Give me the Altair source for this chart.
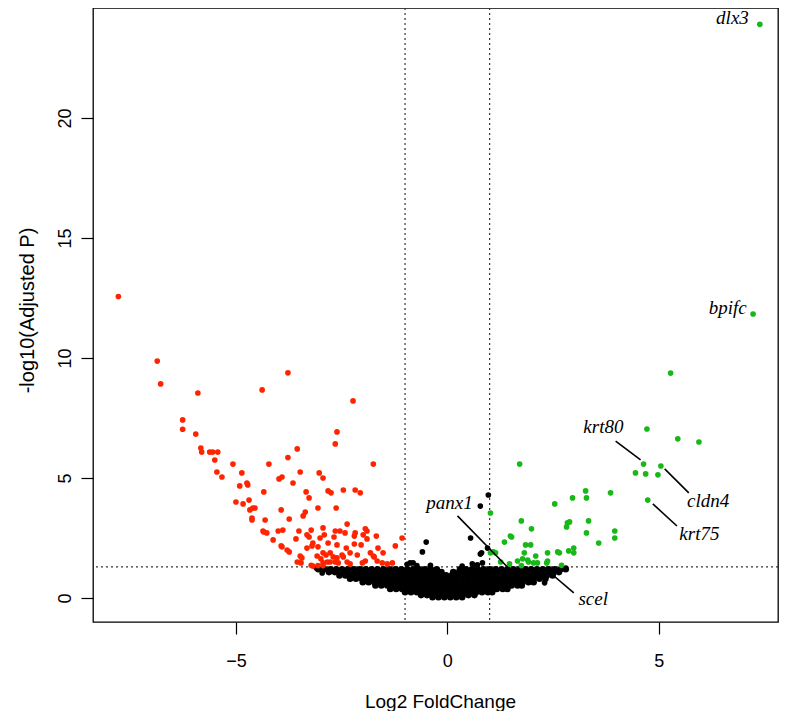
import altair as alt
import pandas as pd

# ---------------- data ----------------
# down-regulated (red): (log2FC, -log10 padj)
red_pts = [(-7.78, 12.56), (-6.86, 9.87), (-6.78, 8.92), (-5.90, 8.54), (-4.38, 8.67), (-3.77, 9.38),
           (-6.26, 7.42), (-6.26, 7.03), (-5.95, 6.83), (-5.83, 6.25), (-5.81, 6.08), (-5.62, 6.08),
           (-5.55, 6.08), (-5.43, 6.08), (-5.50, 5.75), (-3.77, 5.85), (-5.07, 5.58), (-4.22, 5.58),
           (-5.45, 5.25), (-4.86, 5.21), (-5.33, 5.04), (-3.98, 4.96), (-3.91, 5.04), (-4.91, 4.67),
           (-4.74, 4.79), (-4.72, 4.71), (-4.34, 4.42), (-5.00, 4.00), (-4.83, 3.92), (-4.69, 4.08),
           (-4.67, 3.67), (-4.60, 3.75), (-4.55, 3.75), (-3.93, 3.67), (-3.74, 3.29), (-4.62, 3.33),
           (-4.62, 3.25), (-4.31, 3.25), (-4.36, 2.79), (-4.34, 2.75), (-4.27, 2.71), (-4.00, 2.79),
           (-3.89, 2.83), (-4.12, 2.42), (-3.93, 2.17), (-3.91, 2.13), (-3.79, 2.00), (-3.74, 1.92),
           (-2.61, 6.92), (-2.65, 6.42), (-3.55, 6.21), (-3.48, 5.25), (-3.03, 5.21), (-2.94, 5.00),
           (-3.65, 4.79), (-1.75, 5.58), (-3.34, 4.42), (-3.27, 4.17), (-2.82, 4.46), (-2.75, 4.38),
           (-2.46, 4.50), (-2.18, 4.50), (-2.06, 4.38), (-3.06, 3.75), (-2.63, 3.75), (-3.36, 3.58),
           (-3.41, 3.42), (-2.37, 3.08), (-3.51, 2.79), (-3.22, 2.83), (-2.94, 2.92), (-2.65, 2.79),
           (-2.54, 2.79), (-1.94, 2.88), (-1.90, 2.79), (-3.58, 2.46), (-3.32, 2.63), (-3.27, 2.54),
           (-3.01, 2.50), (-2.91, 2.63), (-2.68, 2.54), (-2.42, 2.71), (-2.18, 2.71), (-2.20, 2.58),
           (-1.99, 2.63), (-1.68, 2.58), (-1.07, 2.50), (-3.18, 2.29), (-3.20, 2.17), (-3.32, 2.08),
           (-3.06, 2.13), (-2.82, 2.29), (-2.61, 2.21), (-2.39, 2.08), (-2.20, 2.25), (-2.04, 2.21),
           (-1.90, 2.46), (-1.64, 2.08), (-1.23, 2.17), (-3.48, 1.75), (-3.44, 1.67), (-3.08, 1.75),
           (-2.94, 1.88), (-2.87, 1.79), (-2.77, 1.88), (-2.70, 1.71), (-2.61, 1.67), (-2.49, 1.79),
           (-2.46, 1.71), (-2.30, 1.88), (-2.13, 1.79), (-1.82, 1.88), (-1.75, 1.75), (-1.52, 1.88),
           (-3.55, 1.50), (-3.46, 1.46), (-3.22, 1.36), (-3.18, 1.33), (-2.99, 1.63), (-2.94, 1.46),
           (-2.84, 1.50), (-2.77, 1.50), (-2.65, 1.50), (-2.58, 1.46), (-2.37, 1.50), (-2.30, 1.42),
           (-2.01, 1.46), (-1.94, 1.54), (-1.73, 1.71), (-1.66, 1.54), (-1.54, 1.46), (-1.42, 1.42),
           (-1.30, 1.46), (-3.06, 1.35), (-2.94, 1.35), (-2.23, 8.21)]

# up-regulated (green)
green_pts = [(7.39, 23.90), (7.23, 11.83), (5.28, 9.37), (4.72, 7.04), (5.45, 6.63), (5.95, 6.50),
             (4.64, 5.58), (5.05, 5.50), (4.45, 5.21), (4.69, 5.17), (4.98, 5.13), (4.74, 4.08),
             (1.71, 5.58), (1.02, 3.54), (2.54, 3.92), (2.96, 4.17), (3.27, 4.46), (3.29, 4.17),
             (3.86, 4.38), (1.75, 3.21), (1.99, 2.88), (2.84, 3.13), (2.89, 3.17), (2.82, 2.96),
             (3.34, 3.21), (3.29, 2.71), (3.96, 2.79), (3.96, 2.50), (3.58, 2.29), (1.49, 2.58),
             (1.52, 2.54), (1.35, 2.33), (1.85, 2.21), (1.97, 2.21), (1.14, 1.88), (1.09, 1.92),
             (1.82, 1.88), (2.09, 1.75), (2.37, 1.88), (2.61, 1.92), (2.65, 1.88), (2.87, 1.96),
             (2.99, 2.08), (2.99, 1.88), (1.26, 1.50), (1.47, 1.42), (1.66, 1.54), (1.78, 1.63),
             (1.90, 1.58), (1.92, 1.50), (2.04, 1.46), (2.13, 1.46), (2.35, 1.46), (2.37, 1.54),
             (2.70, 1.36), (1.75, 1.35), (1.02, 1.88)]

# not significant (black), scattered ones
black_pts = [(0.97, 4.29), (0.78, 3.83), (0.55, 2.50), (0.81, 1.88), (0.95, 2.08), (-0.50, 2.33),
             (-0.59, 1.92), (0.69, 1.33), (0.59, 1.42), (-0.88, 1.46), (-0.81, 1.46), (0.78, 1.83),
             (0.71, 1.38), (0.83, 1.46), (-0.95, 1.40), (-0.72, 1.35), (-2.96, 1.04), (2.30, 0.63),
             (2.80, 1.25), (-0.40, 1.36), (0.35, 1.33), (-3.10, 1.25)]

# dense black mass, read row by row (x positions at each -log10 padj level)
mass_003 = [-0.35, -0.21, -0.07, 0.07, 0.21, 0.35]
mass_012 = [-0.62, -0.48, -0.34, -0.2, -0.06, 0.08, 0.22, 0.36, 0.5, 0.64]
mass_024 = [-1.0, -0.86, -0.72, -0.58, -0.44, -0.3, -0.16, -0.02, 0.12, 0.26, 0.4, 0.54, 0.68, 0.82,
            0.96, 1.06]
mass_038 = [-1.35, -1.21, -1.07, -0.93, -0.79, -0.65, -0.51, -0.37, -0.23, -0.09, 0.05, 0.19, 0.33,
            0.47, 0.61, 0.75, 0.89, 1.03, 1.17, 1.31, 1.42]
mass_052 = [-1.7, -1.56, -1.42, -1.28, -1.14, -1.0, -0.86, -0.72, -0.58, -0.44, -0.3, -0.16, -0.02,
            0.12, 0.26, 0.4, 0.54, 0.68, 0.82, 0.96, 1.1, 1.24, 1.38, 1.52, 1.66, 1.76]
mass_066 = [-2.0, -1.86, -1.72, -1.58, -1.44, -1.3, -1.16, -1.02, -0.88, -0.74, -0.6, -0.46, -0.32,
            -0.18, -0.04, 0.1, 0.24, 0.38, 0.52, 0.66, 0.8, 0.94, 1.08, 1.22, 1.36, 1.5, 1.64, 1.78,
            1.92, 2.04]
mass_080 = [-2.3, -2.16, -2.02, -1.88, -1.74, -1.6, -1.46, -1.32, -1.18, -1.04, -0.9, -0.76, -0.62,
            -0.48, -0.34, -0.2, -0.06, 0.08, 0.22, 0.36, 0.5, 0.64, 0.78, 0.92, 1.06, 1.2, 1.34, 1.48,
            1.62, 1.76, 1.9, 2.04, 2.18, 2.32]
mass_094 = [-2.55, -2.41, -2.27, -2.13, -1.99, -1.85, -1.71, -1.57, -1.43, -1.29, -1.15, -1.01, -0.87,
            -0.73, -0.59, -0.45, -0.31, -0.17, -0.03, 0.11, 0.25, 0.39, 0.53, 0.67, 0.81, 0.95, 1.09,
            1.23, 1.37, 1.51, 1.65, 1.79, 1.93, 2.07, 2.21, 2.35, 2.49]
mass_108 = [-2.8, -2.66, -2.52, -2.38, -2.24, -2.1, -1.96, -1.82, -1.68, -1.54, -1.4, -1.26, -1.12,
            -0.98, -0.84, -0.7, -0.56, -0.42, -0.28, -0.14, 0.14, 0.28, 0.42, 0.56, 0.7, 0.84, 0.98,
            1.12, 1.26, 1.4, 1.54, 1.68, 1.82, 1.96, 2.1, 2.24, 2.38, 2.52, 2.64]
mass_120 = [-3.05, -2.91, -2.77, -2.63, -2.49, -2.35, -2.21, -2.07, -1.93, -1.79, -1.65, -1.51, -1.37,
            -1.23, -1.09, -0.95, -0.81, -0.67, -0.53, -0.39, -0.25, 0.3, 0.44, 0.58, 0.72, 0.86, 1.0,
            1.14, 1.28, 1.42, 1.56, 1.7, 1.84, 1.98, 2.12, 2.26, 2.4, 2.54, 2.68, 2.8]
mass_levels = [(0.03, mass_003), (0.12, mass_012), (0.24, mass_024), (0.38, mass_038),
               (0.52, mass_052), (0.66, mass_066), (0.80, mass_080), (0.94, mass_094),
               (1.08, mass_108), (1.20, mass_120)]

# gene labels
labels_right = [("dlx3", 7.13, 24.17), ("bpifc", 7.08, 12.1)]
labels_center = [("krt80", 3.69, 7.13), ("cldn4", 6.17, 4.04), ("krt75", 5.96, 2.67),
                 ("panx1", 0.05, 3.96), ("scel", 3.45, -0.04)]
# leader lines (x, y, x2, y2)
leaders = [(3.98, 6.54, 4.57, 5.75), (5.14, 5.38, 5.71, 4.38), (4.86, 3.92, 5.43, 3.00),
           (0.24, 3.42, 1.42, 1.29), (2.30, 1.25, 2.99, 0.21)]

fc_cut = [-1, 1]
p_cut = [1.3]

x_ticks = [-5, 0, 5]
y_ticks = [0, 5, 10, 15, 20]

# ---------------- build tables ----------------
mass_rows = []
for lvl, xs_ in mass_levels:
    for xv in xs_:
        mass_rows.append({"x": xv, "y": lvl})
mass_df = pd.DataFrame(mass_rows)

rows = []
for xv, yv in black_pts:
    rows.append({"x": xv, "y": yv, "grp": "ns"})
for xv, yv in red_pts:
    rows.append({"x": xv, "y": yv, "grp": "down"})
for xv, yv in green_pts:
    rows.append({"x": xv, "y": yv, "grp": "up"})
df = pd.DataFrame(rows)

lab_r = pd.DataFrame(labels_right, columns=["g", "x", "y"])
lab_c = pd.DataFrame(labels_center, columns=["g", "x", "y"])
lead = pd.DataFrame(leaders, columns=["x", "y", "x2", "y2"])
vdf = pd.DataFrame({"x": fc_cut})
hdf = pd.DataFrame({"y": p_cut})

FONT = "Liberation Sans"
xsc = alt.Scale(domain=[-8.38, 7.82], nice=False, zero=False)
ysc = alt.Scale(domain=[-1.0, 24.58], nice=False, zero=False)

x_axis = alt.Axis(values=x_ticks, title="Log2 FoldChange", grid=False, domain=False,
                  tickSize=12, tickColor="black", tickWidth=1.2,
                  labelFont=FONT, labelFontSize=18, labelColor="black", labelPadding=18,
                  labelBaseline="top", labelAlign="center",
                  titleFont=FONT, titleFontSize=19, titleFontWeight="normal", titleColor="black",
                  titleX=347, titleY=79, titleBaseline="middle", titleAlign="center")
y_axis = alt.Axis(values=y_ticks, title="-log10(Adjusted P)", grid=False, domain=False,
                  tickSize=12, tickColor="black", tickWidth=1.2,
                  labelFont=FONT, labelFontSize=18, labelColor="black", labelPadding=7,
                  labelAngle=270, labelAlign="center", labelBaseline="bottom",
                  titleFont=FONT, titleFontSize=20, titleFontWeight="normal", titleColor="black",
                  titleAngle=270, titleX=-66, titleY=302, titleBaseline="middle",
                  titleAlign="center")

X = alt.X("x:Q", scale=xsc, axis=x_axis)
Y = alt.Y("y:Q", scale=ysc, axis=y_axis)

mass = alt.Chart(mass_df).mark_circle(size=44, opacity=1, color="#000000").encode(x=X, y=Y)

points = alt.Chart(df).mark_circle(size=32, opacity=1).encode(
    x=X, y=Y,
    color=alt.Color("grp:N", scale=alt.Scale(domain=["ns", "down", "up"],
                                             range=["#000000", "#ff2400", "#17b817"]),
                    legend=None),
)

vlines = alt.Chart(vdf).mark_rule(color="#333333", strokeDash=[2, 3], strokeWidth=1.2).encode(x=X)
hline = alt.Chart(hdf).mark_rule(color="#333333", strokeDash=[2, 3], strokeWidth=1.2).encode(y=Y)

lead_lines = alt.Chart(lead).mark_rule(color="black", strokeWidth=1.6).encode(
    x=X, y=Y, x2="x2:Q", y2="y2:Q")

txt_r = alt.Chart(lab_r).mark_text(font="Liberation Serif", fontStyle="italic", fontSize=19,
                                   align="right", baseline="middle", color="black").encode(
    x=X, y=Y, text="g:N")
txt_c = alt.Chart(lab_c).mark_text(font="Liberation Serif", fontStyle="italic", fontSize=19,
                                   align="center", baseline="middle", color="black").encode(
    x=X, y=Y, text="g:N")

chart = alt.layer(vlines, hline, mass, points, lead_lines, txt_r, txt_c).properties(
    width=685, height=614,
    padding={"left": 85, "top": 0, "right": 1, "bottom": 89},
    autosize=alt.AutoSizeParams(type="none"),
).configure_view(stroke="black", strokeWidth=1.3)

chart.save("out.html", embed_options={"renderer": "svg", "actions": False})
